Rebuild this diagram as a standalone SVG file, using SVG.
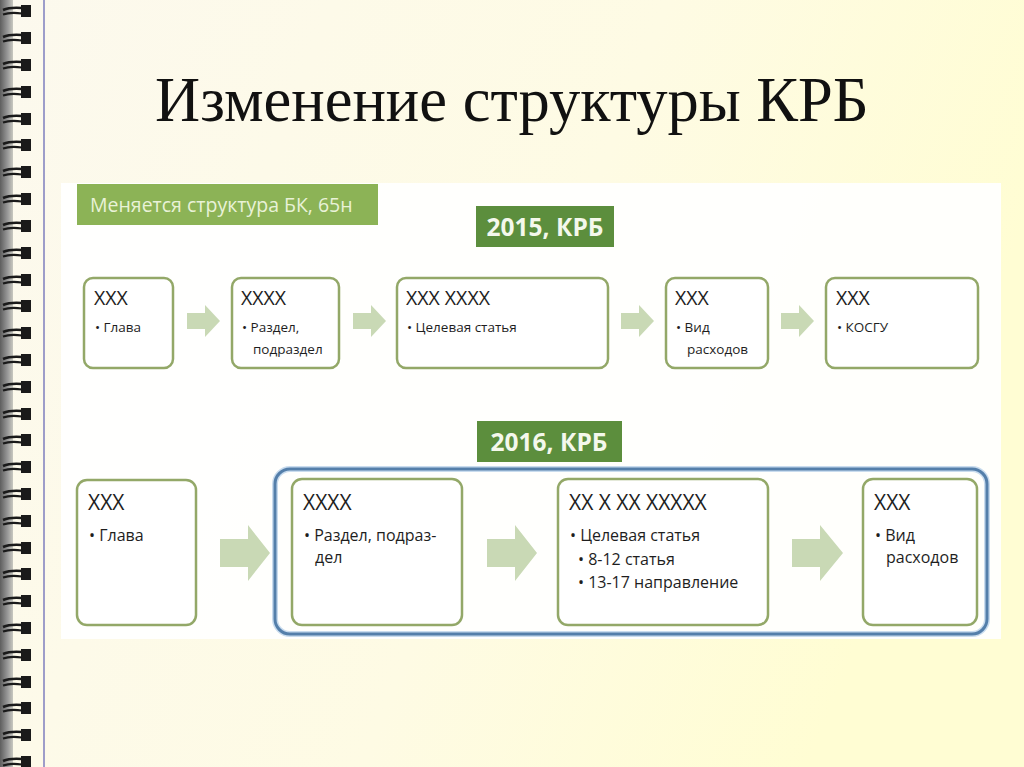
<svg xmlns="http://www.w3.org/2000/svg" xmlns:xlink="http://www.w3.org/1999/xlink" width="1024" height="767" viewBox="0 0 1024 767">
<defs>
<linearGradient id="bg" x1="0" y1="0" x2="1" y2="0.3">
<stop offset="0" stop-color="#FCF9EE"/>
<stop offset="0.6" stop-color="#FEFBE4"/>
<stop offset="1" stop-color="#FFFDD3"/>
</linearGradient>
<linearGradient id="strip" x1="0" y1="0" x2="1" y2="0">
<stop offset="0" stop-color="#5E5E5E"/>
<stop offset="0.6" stop-color="#9A9A9A"/>
<stop offset="1" stop-color="#C8C8C0"/>
</linearGradient>
<g id="ring">
<path d="M21,0 h10 v12 h-10 z" fill="#1A1A1A"/>
<path d="M3,5 Q10,2 22,3" stroke="#1A1A1A" stroke-width="2.6" fill="none"/>
<path d="M3,9.5 Q10,7 22,8.5" stroke="#1A1A1A" stroke-width="2.2" fill="none"/>
</g>
<style>
.box{fill:#FFFFFF;stroke:#93A868;stroke-width:2.5}
.arr{fill:#C9D9B5}
.t{font-family:"Open Sans","Noto Sans",sans-serif;fill:#1E1E1E}
.h1{font-size:19.5px}
.b1{font-size:13.5px}
.h2{font-size:21px}
.b2{font-size:16px}
.hdr{font-family:"Open Sans","Noto Sans",sans-serif;font-weight:bold;font-size:24.5px;fill:#F4F8EC;text-anchor:middle}
</style>
</defs>
<rect x="0" y="0" width="1024" height="767" fill="url(#bg)"/>
<rect x="0" y="0" width="13" height="767" fill="url(#strip)"/>
<line x1="44" y1="0" x2="44" y2="767" stroke="#7E7EBE" stroke-width="1.5"/>
<g id="binding">
<use xlink:href="#ring" y="5"/><use xlink:href="#ring" y="32"/><use xlink:href="#ring" y="59"/><use xlink:href="#ring" y="86"/><use xlink:href="#ring" y="113"/><use xlink:href="#ring" y="139"/><use xlink:href="#ring" y="166"/><use xlink:href="#ring" y="193"/><use xlink:href="#ring" y="220"/><use xlink:href="#ring" y="247"/><use xlink:href="#ring" y="274"/><use xlink:href="#ring" y="300"/><use xlink:href="#ring" y="327"/><use xlink:href="#ring" y="354"/><use xlink:href="#ring" y="381"/><use xlink:href="#ring" y="408"/><use xlink:href="#ring" y="434"/><use xlink:href="#ring" y="461"/><use xlink:href="#ring" y="488"/><use xlink:href="#ring" y="515"/><use xlink:href="#ring" y="542"/><use xlink:href="#ring" y="568"/><use xlink:href="#ring" y="595"/><use xlink:href="#ring" y="622"/><use xlink:href="#ring" y="649"/><use xlink:href="#ring" y="676"/><use xlink:href="#ring" y="702"/><use xlink:href="#ring" y="729"/><use xlink:href="#ring" y="756"/>
</g>
<text x="155" y="121" font-family="'Liberation Serif','Times New Roman',serif" font-size="62.5" fill="#111">Изменение структуры КРБ</text>
<rect x="61" y="183" width="940" height="456" fill="#FFFFFF" opacity="0.92"/>
<g id="header-bk">
<rect x="77" y="184" width="301" height="41" fill="#8CB356"/>
<text x="90" y="212" font-family="'Open Sans','Noto Sans',sans-serif" font-size="19.5" fill="#E9F2D8">Меняется структура БК, 65н</text>
</g>
<g id="header-2015">
<rect x="476" y="206" width="138" height="41" fill="#5C8E3D"/>
<text x="545" y="236" class="hdr">2015, КРБ</text>
</g>
<g id="header-2016">
<rect x="477" y="421" width="145" height="41" fill="#5C8E3D"/>
<text x="549" y="451" class="hdr">2016, КРБ</text>
</g>
<g id="group-2016">
<rect x="275" y="469" width="712" height="165" rx="15" fill="none" stroke="#C9DCEE" stroke-width="6"/>
<rect x="275" y="469" width="712" height="165" rx="15" fill="none" stroke="#547FAA" stroke-width="3"/>
</g>
<g id="connectors">
<polygon class="arr" points="187,313 205,313 205,305 220,321 205,337 205,329 187,329"/>
<polygon class="arr" points="353,313 371,313 371,305 386,321 371,337 371,329 353,329"/>
<polygon class="arr" points="621,313 639,313 639,305 654,321 639,337 639,329 621,329"/>
<polygon class="arr" points="781,313 799,313 799,305 814,321 799,337 799,329 781,329"/>
<polygon class="arr" points="220,539 248,539 248,525 270,553 248,581 248,567 220,567"/>
<polygon class="arr" points="487,539 515,539 515,525 537,553 515,581 515,567 487,567"/>
<polygon class="arr" points="792,539 820,539 820,525 843,553 820,581 820,567 792,567"/>
</g>
<g id="n2015-glava">
<rect class="box" x="84" y="278" width="89" height="90" rx="9"/>
<text class="t h1" x="94" y="305">ХХХ</text>
<text class="t b1" x="95" y="332">• Глава</text>
</g>
<g id="n2015-razdel">
<rect class="box" x="232" y="278" width="107" height="90" rx="9"/>
<text class="t h1" x="241" y="305">ХХХХ</text>
<text class="t b1" x="242" y="332">• Раздел,</text>
<text class="t b1" x="253" y="354">подраздел</text>
</g>
<g id="n2015-cel">
<rect class="box" x="397" y="278" width="211" height="90" rx="9"/>
<text class="t h1" x="406" y="305">ХХХ ХХХХ</text>
<text class="t b1" x="407" y="332">• Целевая статья</text>
</g>
<g id="n2015-vid">
<rect class="box" x="666" y="278" width="102" height="90" rx="9"/>
<text class="t h1" x="675" y="305">ХХХ</text>
<text class="t b1" x="676" y="332">• Вид</text>
<text class="t b1" x="687" y="354">расходов</text>
</g>
<g id="n2015-kosgu">
<rect class="box" x="826" y="278" width="152" height="90" rx="9"/>
<text class="t h1" x="836" y="305">ХХХ</text>
<text class="t b1" x="837" y="332">• КОСГУ</text>
</g>
<g id="n2016-glava">
<rect class="box" x="77" y="480" width="119" height="145" rx="10"/>
<text class="t h2" x="88" y="510">ХХХ</text>
<text class="t b2" x="89" y="541">• Глава</text>
</g>
<g id="n2016-razdel">
<rect class="box" x="292" y="479" width="170" height="146" rx="10"/>
<text class="t h2" x="303" y="510">ХХХХ</text>
<text class="t b2" x="304" y="541">• Раздел, подраз-</text>
<text class="t b2" x="315" y="563">дел</text>
</g>
<g id="n2016-cel">
<rect class="box" x="558" y="479" width="210" height="146" rx="10"/>
<text class="t h2" x="569" y="510">ХХ Х ХХ ХХХХХ</text>
<text class="t b2" x="570" y="541">• Целевая статья</text>
<text class="t b2" x="578" y="565">• 8-12 статья</text>
<text class="t b2" x="578" y="588">• 13-17 направление</text>
</g>
<g id="n2016-vid">
<rect class="box" x="863" y="479" width="114" height="146" rx="10"/>
<text class="t h2" x="874" y="510">ХХХ</text>
<text class="t b2" x="875" y="541">• Вид</text>
<text class="t b2" x="886" y="563">расходов</text>
</g>
</svg>
